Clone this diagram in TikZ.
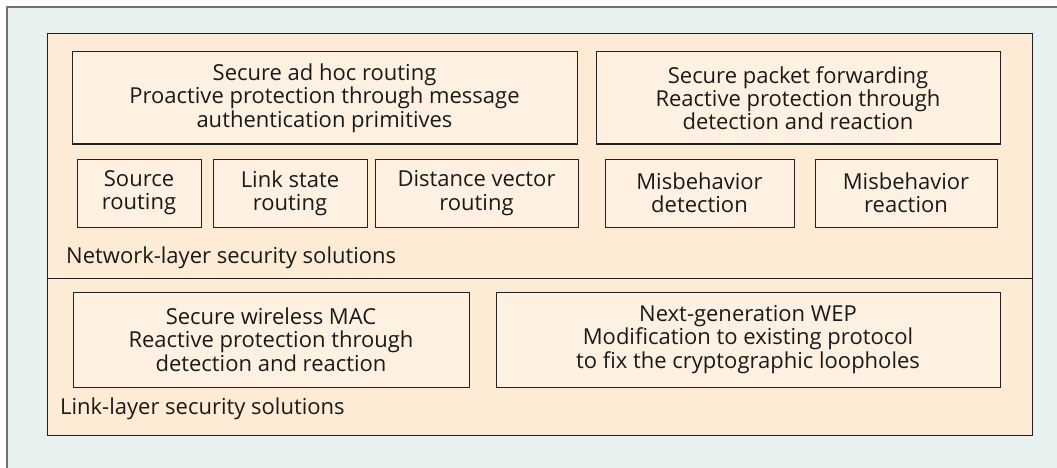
\documentclass[tikz,border=0pt]{standalone}
\usepackage{fontspec}
\setmainfont{Open Sans}
\definecolor{outerbg}{HTML}{E8F1F0}
\definecolor{framegray}{HTML}{707070}
\definecolor{panelfill}{HTML}{FDEBD6}
\definecolor{boxfill}{HTML}{FEF1E2}
\definecolor{boxline}{HTML}{222222}
\definecolor{inkcol}{HTML}{1A1A1A}
\newcommand{\boxfont}{\fontsize{22}{23.3}\selectfont}

\begin{document}
\begin{tikzpicture}[x=1pt, y=-1pt,
  blk/.style={draw=boxline, fill=boxfill, line width=1pt, inner sep=0pt,
    align=center, text=inkcol, font=\boxfont},
  layerlabel/.style={anchor=base west, inner sep=0pt, text=inkcol, font=\boxfont}]
\useasboundingbox (0,0) rectangle (1057,468);
\fill[white] (0,0) rectangle (1057,468);
\filldraw[fill=outerbg, draw=framegray, line width=1.5pt] (7,7) rectangle (1080,490);
% layer panel
\filldraw[fill=panelfill, draw=boxline, line width=1pt] (47,34) rectangle (1032,435);
\draw[boxline, line width=1pt] (47,278) -- (1032,278);
% network layer
\node[blk, minimum width=505pt, minimum height=92pt] (sah) at (324.5,98)
  {Secure ad hoc routing\\Proactive protection through message\\authentication primitives};
\node[blk, minimum width=404pt, minimum height=92pt] (spf) at (798,98)
  {Secure packet forwarding\\Reactive protection through\\detection and reaction};
\node[blk, minimum width=124pt, minimum height=68pt] (src) at (139,193) {Source\\routing};
\node[blk, minimum width=154pt, minimum height=68pt] (lsr) at (290,193) {Link state\\routing};
\node[blk, minimum width=203pt, minimum height=68pt] (dvr) at (476.5,193) {Distance vector\\routing};
\node[blk, minimum width=189pt, minimum height=68pt] (mbd) at (699.5,193) {Misbehavior\\detection};
\node[blk, minimum width=182pt, minimum height=68pt] (mbr) at (906,193) {Misbehavior\\reaction};
\node[layerlabel] (netl) at (66,263) {Network-layer security solutions};
% link layer
\node[blk, minimum width=396pt, minimum height=95pt] (wmac) at (271,339.5)
  {Secure wireless MAC\\Reactive protection through\\detection and reaction};
\node[blk, minimum width=504pt, minimum height=95pt] (wep) at (748,339.5)
  {Next-generation WEP\\Modification to existing protocol\\to fix the cryptographic loopholes};
\node[layerlabel] (linkl) at (60,414) {Link-layer security solutions};
\end{tikzpicture}
\end{document}
